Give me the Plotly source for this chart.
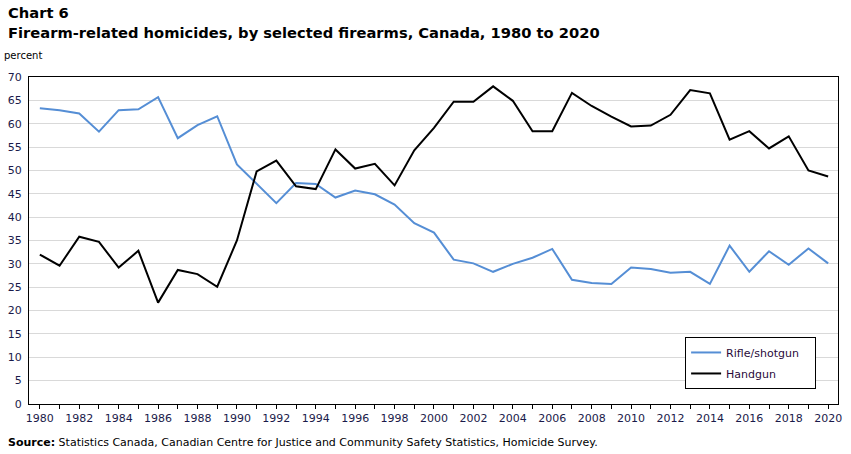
import plotly.graph_objects as go

years = list(range(1980, 2021))
rifle_shotgun = [63.3, 62.9, 62.2, 58.3, 62.9, 63.1, 65.7, 56.9, 59.7, 61.6,
                 51.3, 47.2, 43.0, 47.3, 47.1, 44.2, 45.7, 44.9, 42.7, 38.7,
                 36.7, 30.9, 30.1, 28.3, 30.0, 31.3, 33.2, 26.6, 25.9, 25.7,
                 29.2, 28.9, 28.1, 28.3, 25.7, 33.9, 28.3, 32.7, 29.8, 33.3,
                 30.1]
handgun = [32.0, 29.6, 35.8, 34.7, 29.2, 32.8, 21.7, 28.7, 27.8, 25.1,
           35.0, 49.8, 52.1, 46.6, 46.0, 54.5, 50.4, 51.4, 46.8, 54.3,
           59.1, 64.7, 64.7, 68.0, 64.9, 58.4, 58.4, 66.6, 63.8, 61.5,
           59.4, 59.6, 61.9, 67.2, 66.5, 56.6, 58.4, 54.7, 57.3, 50.0,
           48.7]
x_ticktext = [str(y) if y % 2 == 0 else "" for y in years]
y_ticks = list(range(0, 75, 5))

FONT = "Verdana, DejaVu Sans, sans-serif"
TICKCOL = "#1a1a4a"

fig = go.Figure()
fig.add_trace(go.Scatter(x=years, y=rifle_shotgun, mode="lines", name="Rifle/shotgun   ",
                         legendgroup="a",
                         line=dict(color="#558ed5", width=2)))
fig.add_trace(go.Scatter(x=years, y=handgun, mode="lines", name="Handgun",
                         legendgroup="b",
                         line=dict(color="#000000", width=2)))

fig.update_layout(
    width=851, height=454,
    margin=dict(l=29, r=13, t=77, b=50, autoexpand=False),
    paper_bgcolor="white", plot_bgcolor="white",
    font=dict(family=FONT, size=11, color=TICKCOL),
    showlegend=True,
    legend=dict(x=0.811, y=0.205, xanchor="left", yanchor="top",
                bordercolor="black", borderwidth=1, bgcolor="white",
                font=dict(family=FONT, size=11, color="#2a0a3a"),
                traceorder="grouped", tracegroupgap=2, itemwidth=30),
    xaxis=dict(range=[1979.45, 2020.5], tickvals=years, ticktext=x_ticktext,
               tickangle=0, automargin=False,
               showgrid=False, showline=True, linecolor="black", linewidth=1, mirror=True,
               ticks="outside", ticklen=4, tickcolor="black",
               tickfont=dict(family=FONT, size=11, color=TICKCOL), zeroline=False),
    yaxis=dict(range=[0, 70], tickvals=y_ticks, automargin=False,
               showgrid=True, gridcolor="#d9d9d9", gridwidth=1,
               showline=True, linecolor="black", linewidth=1, mirror=True,
               ticks="", ticklabelstandoff=4,
               tickfont=dict(family=FONT, size=11, color=TICKCOL), zeroline=False),
)

fig.add_annotation(text="<b>Chart 6</b>", xref="paper", yref="paper", x=-0.029, y=1.0,
                   xanchor="left", yanchor="bottom", yshift=54, showarrow=False,
                   font=dict(family=FONT, size=14.7, color="black"))
fig.add_annotation(text="<b>Firearm-related homicides, by selected firearms, Canada, 1980 to 2020</b>",
                   xref="paper", yref="paper", x=-0.029, y=1.0,
                   xanchor="left", yanchor="bottom", yshift=34, showarrow=False,
                   font=dict(family=FONT, size=14.7, color="black"))
fig.add_annotation(text="percent", xref="paper", yref="paper", x=-0.033, y=1.0,
                   xanchor="left", yanchor="bottom", yshift=14, showarrow=False,
                   font=dict(family=FONT, size=10, color="black"))
fig.add_annotation(text="<b>Source:</b> Statistics Canada, Canadian Centre for Justice and Community Safety Statistics, Homicide Survey.",
                   xref="paper", yref="paper", x=-0.029, y=0.0,
                   xanchor="left", yanchor="top", yshift=-30, showarrow=False,
                   font=dict(family=FONT, size=11, color="black"))

fig.write_html("out.html")
